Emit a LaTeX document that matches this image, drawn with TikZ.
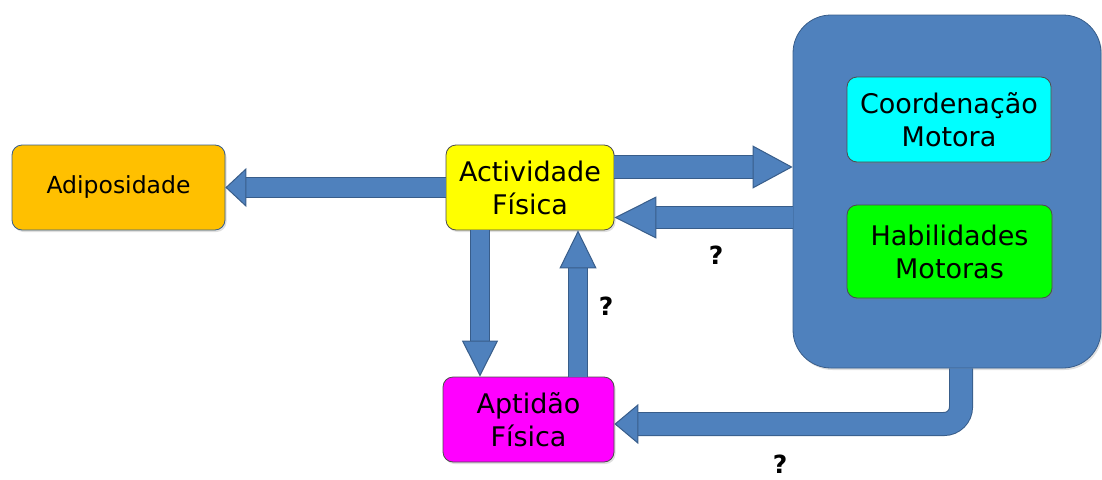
\documentclass[tikz,border=0pt]{standalone}
\usepackage{fontspec}
\setmainfont{DejaVu Sans}
\usetikzlibrary{arrows.meta,shadows}
\definecolor{acol}{RGB}{79,129,189}
\definecolor{ecol}{RGB}{56,93,138}
\definecolor{ocol}{RGB}{255,192,0}
\definecolor{ycol}{RGB}{255,255,0}
\definecolor{mcol}{RGB}{255,0,255}
\definecolor{ccol}{RGB}{0,255,255}
\definecolor{gcol}{RGB}{0,255,0}
\tikzset{every picture/.style={x=1pt,y=-1pt}}
\tikzset{box/.style={draw=black!70,line width=0.8pt,rounded corners=10pt,align=center,inner sep=0pt,font=\fontsize{27}{33}\selectfont,drop shadow={shadow xshift=1.5pt,shadow yshift=-2pt,opacity=0.25}}}
\tikzset{blk/.style n args={4}{draw=acol,line width=#1,preaction={draw=ecol,line width=#2,-,shorten >=#3-2pt},-{Triangle[length=#3,width=#4,line width=1pt,fill=acol,color=ecol]}}}
\tikzset{qmark/.style={font=\bfseries\fontsize{25}{30}\selectfont,inner sep=1pt}}

\begin{document}
\begin{tikzpicture}
\useasboundingbox (0,0) rectangle (1102,479);
\node [box,fill=acol,draw=ecol,rounded corners=38pt,minimum width=308pt,minimum height=353pt] (big) at (947,191.5) {};
\node [box,fill=ocol,draw=ecol,minimum width=213pt,minimum height=85pt,font=\fontsize{23.5}{28}\selectfont] (adip) at (118.5,187.5) {Adiposidade};
\node [box,fill=ycol,minimum width=168pt,minimum height=85pt] (act) at (530,187.5) {Actividade\\Física};
\node [box,fill=mcol,minimum width=171pt,minimum height=85pt] (apt) at (528.5,419.5) {Aptidão\\Física};
\node [box,fill=ccol,minimum width=204pt,minimum height=85pt] (coord) at (949,119.5) {Coordenação\\Motora};
\node [box,fill=gcol,minimum width=205pt,minimum height=93pt] (hab) at (949.5,251.5) {Habilidades\\Motoras};

\draw [blk={19pt}{21pt}{21pt}{39pt}] (act.west) -- (adip.east);
\draw [blk={22pt}{24pt}{40pt}{43pt}] (act.east |- 0,167) -- (big.west |- 0,167);
\draw [blk={21pt}{23pt}{42pt}{42pt}] (big.west |- 0,217.5) -- (act.east |- 0,217.5);
\draw [blk={18pt}{20pt}{36pt}{36pt}] (act.south -| 480,0) -- (apt.north -| 480,0);
\draw [blk={18pt}{20pt}{38pt}{37pt}] (apt.north -| 578,0) -- (act.south -| 578,0);
\draw [blk={22pt}{24pt}{24pt}{40pt},rounded corners=17pt] (big.south -| 961,0) |- (apt.east |- 0,424);

\node [qmark] (q1) at (716,255) {?};
\node [qmark] (q2) at (606,306) {?};
\node [qmark] (q3) at (780,464) {?};
\end{tikzpicture}
\end{document}
